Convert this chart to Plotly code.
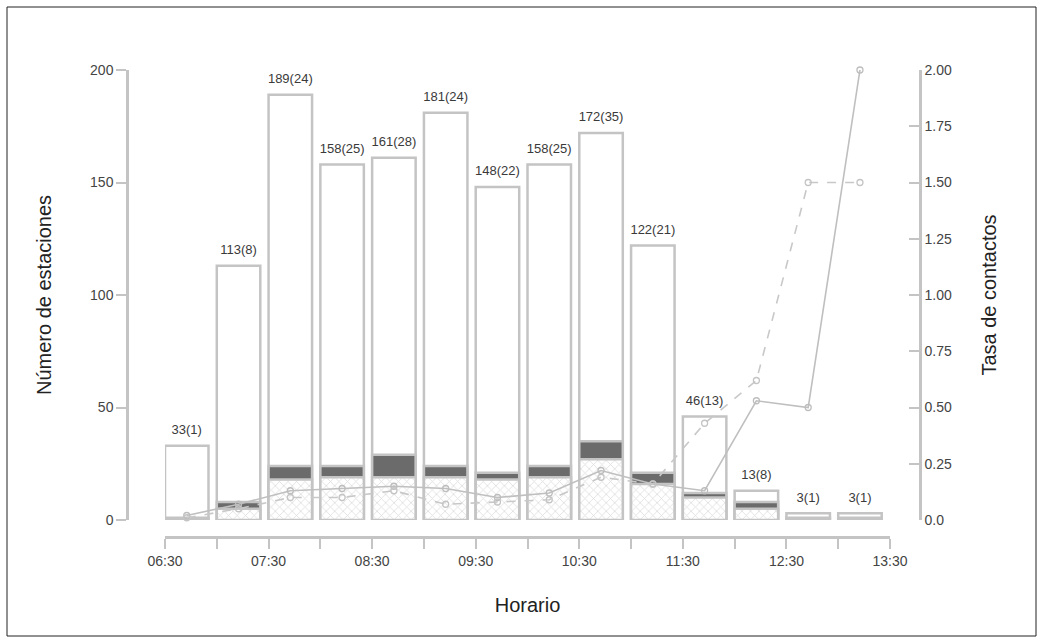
import plotly.graph_objects as go

# ---- data ----
slots = ["06:30", "07:00", "07:30", "08:00", "08:30", "09:00", "09:30",
         "10:00", "10:30", "11:00", "11:30", "12:00", "12:30", "13:00"]
tick_labels = ["06:30", "", "07:30", "", "08:30", "", "09:30", "",
               "10:30", "", "11:30", "", "12:30", "", "13:30"]
total_stations = [33, 113, 189, 158, 161, 181, 148, 158, 172, 122, 46, 13, 3, 3]
contact_stations = [1, 8, 24, 25, 28, 24, 22, 25, 35, 21, 13, 8, 1, 1]
dark_level = [1, 8, 24, 24, 29, 24, 21, 24, 35, 21, 12, 8, 1, 1]
hatch_level = [0, 5, 18, 19, 19, 19, 18, 19, 27, 16, 10, 5, 0, 0]
rate_a = [0.02, 0.07, 0.13, 0.14, 0.15, 0.14, 0.10, 0.12, 0.22, 0.16, 0.13, 0.53, 0.50, 2.00]
rate_b = [0.01, 0.05, 0.10, 0.10, 0.13, 0.07, 0.08, 0.09, 0.19, 0.16, 0.43, 0.62, 1.50, 1.50]
left_ticks = [0, 50, 100, 150, 200]
right_ticks = [0, 0.25, 0.5, 0.75, 1.0, 1.25, 1.5, 1.75, 2.0]
right_tick_text = ["0.0", "0.25", "0.50", "0.75", "1.00", "1.25", "1.50", "1.75", "2.00"]

BAR_W = 0.84
xs = [i + BAR_W / 2 for i in range(len(slots))]
labels = [f"{t}({c})" for t, c in zip(total_stations, contact_stations)]

W, H = 1043, 642
ml, mr, mt, mb = 127, 123, 70, 105
pw, ph = W - ml - mr, H - mt - mb

OUT = "#c4c4c4"
FONT = "Liberation Sans, Arial, sans-serif"

fig = go.Figure()
fig.add_trace(go.Bar(x=xs, y=total_stations, width=BAR_W, marker=dict(
    color="white", line=dict(color=OUT, width=2.5)), hoverinfo="skip"))
fig.add_trace(go.Bar(x=xs, y=dark_level, width=BAR_W, marker=dict(
    color="#6b6b6b", line=dict(color=OUT, width=2.5)), hoverinfo="skip"))
fig.add_trace(go.Bar(x=xs, y=hatch_level, width=BAR_W, marker=dict(
    color="white", line=dict(color=OUT, width=2.5),
    pattern=dict(shape="x", fgcolor="#bcbcbc", bgcolor="white", size=6, solidity=0.25)),
    hoverinfo="skip"))
fig.add_trace(go.Scatter(x=xs, y=total_stations, mode="markers+text", text=labels,
                         textposition="top center",
                         marker=dict(size=12, color="rgba(0,0,0,0)"),
                         textfont=dict(family=FONT, size=13, color="#3a3a3a"),
                         cliponaxis=False, hoverinfo="skip"))
fig.add_trace(go.Scatter(x=xs, y=rate_a, yaxis="y2", mode="lines+markers",
                         line=dict(color="#bfbfbf", width=1.6),
                         marker=dict(symbol="circle-open", size=6, color="#bdbdbd", line=dict(width=1.3)),
                         cliponaxis=False, hoverinfo="skip"))
fig.add_trace(go.Scatter(x=xs, y=rate_b, yaxis="y2", mode="lines+markers",
                         line=dict(color="#c8c8c8", width=1.6, dash="dash"),
                         marker=dict(symbol="circle-open", size=6, color="#c4c4c4", line=dict(width=1.3)),
                         cliponaxis=False, hoverinfo="skip"))

x0 = (165 - ml) / pw
x1 = (890 - ml) / pw
y0 = (H - mb - 520) / ph

axis_common = dict(showgrid=False, zeroline=False, showline=True, linecolor=OUT,
                   linewidth=2.5, tickcolor=OUT, tickwidth=2, ticklen=10,
                   tickfont=dict(family=FONT, size=14, color="#444"))

fig.update_layout(
    width=W, height=H, margin=dict(l=ml, r=mr, t=mt, b=mb),
    paper_bgcolor="white", plot_bgcolor="white",
    barmode="overlay", showlegend=False,
    xaxis=dict(domain=[x0, x1], range=[0, 14], anchor="free", position=0,
               tickmode="array", tickvals=list(range(15)), ticktext=tick_labels,
               ticks="outside",
               title=dict(text="Horario", standoff=30,
                          font=dict(family=FONT, size=20, color="#222")),
               **axis_common),
    yaxis=dict(domain=[y0, 1], range=[0, 200], anchor="free", position=0,
               tickmode="array", tickvals=left_ticks, ticks="outside",
               title=dict(text="Número de estaciones", standoff=32,
                          font=dict(family=FONT, size=20, color="#222")),
               **axis_common),
    yaxis2=dict(domain=[y0, 1], range=[0, 2.0], anchor="free", position=1,
                overlaying="y", side="right",
                tickmode="array", tickvals=right_ticks, ticktext=right_tick_text,
                ticks="inside",
                title=dict(text="Tasa de contactos", standoff=30,
                           font=dict(family=FONT, size=20, color="#222")),
                **axis_common),
    shapes=[dict(type="rect", xref="paper", yref="paper",
                 x0=(7 - ml) / pw, x1=(1036 - ml) / pw,
                 y0=(H - mb - 636) / ph, y1=(H - mb - 7) / ph,
                 line=dict(color="#222", width=1), fillcolor="rgba(0,0,0,0)",
                 layer="below")],
)

fig.write_html("out.html")
